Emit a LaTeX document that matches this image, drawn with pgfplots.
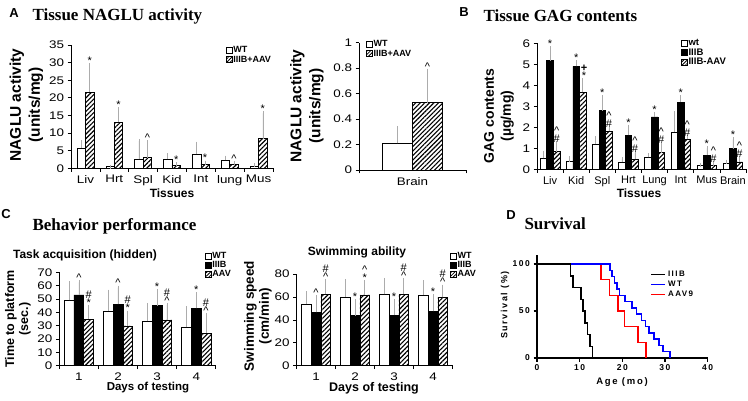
\documentclass[border=0pt]{standalone}
\usepackage{fontspec}
\setmainfont{Liberation Sans}
\newfontfamily\tms{Liberation Serif}
\newfontfamily\wf[FakeStretch=1.22]{Liberation Sans}
\newfontfamily\gp[LetterSpace=18]{Liberation Sans}
\usepackage{pgfplots}
\pgfplotsset{compat=1.18}
\usetikzlibrary{patterns.meta}

\newcommand{\fs}[1]{\fontsize{#1}{#1}\selectfont}
\newcommand{\an}[3]{\node[ann] at (axis cs:#1,#2) {#3};}
\newcommand{\car}{\textasciicircum}

\tikzset{ann/.style={anchor=south, inner sep=0.5pt, align=center,
    font=\fontsize{11}{8}\selectfont}}

\pgfplotsset{
  xl/.style={scale only axis, clip=false, axis lines=left,
    axis line style={-, line width=0.7pt}, tick align=outside,
    major tick length=3.5pt, tick style={black, line width=0.7pt},
    x tick label as interval, ymin=0,
    tick label style={font=\wf\fs{11}},
    /pgf/number format/assume math mode=true,
    legend cell align=left,
    legend style={draw=none, fill=none, anchor=north west, inner sep=0pt,
      font=\bfseries\fs{9}, row sep=0pt,
      nodes={inner sep=0.8pt}},
    legend image code/.code={\draw[##1] (0pt,-3pt) rectangle (6pt,3pt);},
  },
  eb/.style={error bars/.cd, y dir=plus, y explicit,
    error bar style={gray!65, line width=0.6pt},
    error mark options={gray!65, line width=0.6pt, mark size=2pt}},
  wt/.style={ybar, bar shift=0pt, draw=black, line width=0.6pt, fill=white, forget plot},
  mb/.style={ybar, bar shift=0pt, draw=black, line width=0.6pt, fill=black, forget plot},
  hb/.style={ybar, bar shift=0pt, draw=black, line width=0.6pt,
    pattern={Lines[angle=45, distance=3.2pt, line width=1.1pt]}, forget plot},
  hleg/.style={draw=black, line width=0.6pt, pattern={Lines[angle=45, distance=2.4pt, line width=0.8pt]}},
  kmleg/.style={legend image code/.code={\draw[##1] (0pt,0pt) -- (14pt,0pt);}},
}

\begin{document}
\begin{tikzpicture}
\useasboundingbox (0,0) rectangle (748pt,-401pt);

% ---------------- Panel A ----------------
\node[font=\bfseries\fs{13}] at (14pt,-13pt) {A};
\node[font=\tms\bfseries\fs{17}, anchor=west] at (29pt,-16pt) {Tissue NAGLU activity};
\node[rotate=90, align=center, font=\bfseries\fontsize{15.5}{19}\selectfont] at (26.5pt,-105pt) {NAGLU activity\\(units/mg)};
\node[font=\bfseries\fs{12}] at (172pt,-193pt) {Tissues};

\begin{axis}[xl, at={(71pt,-168.3pt)}, anchor=south west,
  width=202pt, height=123.3pt,
  xmin=0.5, xmax=7.5, ymax=35, ytick={0,5,...,35},
  xtick={0.5,1.5,...,7.5},
  xticklabels={Liv,Hrt,Spl,Kid,Int,lung,Mus},
  legend style={at={(0.765,0.995)}},
  bar width=0.294]
\addplot[wt, eb] coordinates {
  (0.853,5.8) +- (0,1.6) (1.853,0.5) +- (0,0) (2.853,2.5) +- (0,5.2) (3.853,2.6) +- (0,1.1)
  (4.853,4.0) +- (0,3.0) (5.853,2.3) +- (0,0.7) (6.853,0.5) +- (0,0.45)};
\addplot[hb, eb] coordinates {
  (1.147,21.6) +- (0,7.6) (2.147,13.1) +- (0,3.6) (3.147,3.0) +- (0,4.4) (4.147,0.75) +- (0,0.35)
  (5.147,1.1) +- (0,0.5) (6.147,1.15) +- (0,0.35) (7.147,8.4) +- (0,7.2)};
\addlegendimage{draw=black, line width=0.6pt, fill=white}
\addlegendentry{WT}
\addlegendimage{hleg}
\addlegendentry{IIIB+AAV}
\an{1.147}{29.2}{*}
\an{2.147}{16.7}{*}
\an{3.147}{7.4}{\car}
\an{4.147}{1.1}{*}
\an{5.147}{1.6}{*}
\an{6.147}{1.5}{\car}
\an{7.147}{15.6}{*}
\end{axis}

\node[rotate=90, align=center, font=\bfseries\fontsize{15.5}{19}\selectfont] at (307pt,-106pt) {NAGLU activity\\(units/mg)};
\begin{axis}[xl, at={(359pt,-170pt)}, anchor=south west,
  width=107pt, height=127.3pt,
  xmin=0.5, xmax=1.5, ymax=1, ytick={0,0.2,0.4,0.6,0.8,1},
  xtick={0.5,1.5}, xticklabels={Brain},
  legend style={at={(0.065,1.025)}},
  bar width=0.28]
\addplot[wt, eb] coordinates {(0.86,0.21) +- (0,0.12)};
\addplot[hb, eb] coordinates {(1.14,0.53) +- (0,0.25)};
\addlegendimage{draw=black, line width=0.6pt, fill=white}
\addlegendentry{WT}
\addlegendimage{hleg}
\addlegendentry{IIIB+AAV}
\an{1.14}{0.78}{\car}
\end{axis}

% ---------------- Panel B ----------------
\node[font=\bfseries\fs{13}] at (464pt,-12pt) {B};
\node[font=\tms\bfseries\fs{17}, anchor=west] at (480pt,-16pt) {Tissue GAG contents};
\node[rotate=90, align=center, font=\bfseries\fontsize{14}{17}\selectfont] at (499pt,-116pt) {GAG contents\\(µg/mg)};
\node[font=\bfseries\fs{12}] at (639pt,-193pt) {Tissues};

\begin{axis}[xl, at={(537pt,-169.3pt)}, anchor=south west,
  width=209pt, height=126pt,
  xmin=0.5, xmax=8.5, ymax=6, ytick={0,1,...,6},
  xtick={0.5,1.5,...,8.5},
  xticklabels={Liv,Kid,Spl,Hrt,Lung,Int,Mus,Brain},
  x tick label style={font=\fs{11}},
  legend style={at={(0.689,1.04)}, font=\bfseries\fs{9.5}},
  bar width=0.25]
\addplot[wt, eb] coordinates {
  (0.75,0.52) +- (0,0.27) (1.75,0.36) +- (0,0.16) (2.75,1.2) +- (0,0.27) (3.75,0.33) +- (0,0.14)
  (4.75,0.57) +- (0,0.09) (5.75,1.78) +- (0,0.9) (6.75,0.17) +- (0,0.05) (7.75,0.28) +- (0,0.08)};
\addplot[mb, eb] coordinates {
  (1,5.18) +- (0,0.59) (2,4.9) +- (0,0.2) (3,2.8) +- (0,0.64) (4,1.63) +- (0,0.39)
  (5,2.5) +- (0,0.14) (6,3.2) +- (0,0.24) (7,0.68) +- (0,0.32) (8,0.98) +- (0,0.44)};
\addplot[hb, eb] coordinates {
  (1.25,0.84) +- (0,0.39) (2.25,3.66) +- (0,0.57) (3.25,1.82) +- (0,0.12) (4.25,0.47) +- (0,0.29)
  (5.25,0.8) +- (0,0.38) (6.25,1.42) +- (0,0.13) (7.25,0.17) +- (0,0.11) (8.25,0.35) +- (0,0.2)};
\addlegendimage{draw=black, line width=0.6pt, fill=white}
\addlegendentry{wt}
\addlegendimage{draw=black, line width=0.6pt, fill=black}
\addlegendentry{IIIB}
\addlegendimage{hleg}
\addlegendentry{IIIB-AAV}
\an{1}{5.77}{*}   \an{1.25}{1.23}{\car\\\#}
\an{2}{5.1}{*}    \an{2.3}{4.23}{\textbf{+}\\*}
\an{3}{3.44}{*}   \an{3.25}{1.94}{\car\\\#}
\an{4}{2.02}{*}   \an{4.25}{0.76}{\car\\\#}
\an{5}{2.64}{*}   \an{5.25}{1.18}{\car\\\#}
\an{6}{3.44}{*}   \an{6.25}{1.55}{\car\\\#}
\an{7}{1.0}{*}    \an{7.25}{0.28}{\car\\\#}
\an{8}{1.42}{*}   \an{8.25}{0.55}{\car\\\#}
\end{axis}

% ---------------- Panel C ----------------
\node[font=\bfseries\fs{13}] at (6pt,-214pt) {C};
\node[font=\tms\bfseries\fs{17}, anchor=west] at (29pt,-226pt) {Behavior performance};
\node[font=\bfseries\fs{12}] at (85pt,-255pt) {Task acquisition (hidden)};
\node[rotate=90, align=center, font=\bfseries\fontsize{12.5}{14}\selectfont] at (18pt,-319pt) {Time to platform\\(sec.)};
\node[font=\bfseries\fs{11.5}] at (148pt,-388pt) {Days of testing};

\begin{axis}[xl, at={(59.3pt,-365.7pt)}, anchor=south west,
  width=156.5pt, height=93.4pt,
  xmin=0.5, xmax=4.5, ymax=70, ytick={0,10,...,70},
  xtick={0.5,1.5,...,4.5}, xticklabels={1,2,3,4},
  legend style={at={(0.93,1.228)}, font=\bfseries\fs{9}},
  bar width=0.25]
\addplot[wt, eb] coordinates {
  (0.75,49) +- (0,12.8) (1.75,41) +- (0,14.5) (2.75,33.5) +- (0,12) (3.75,29) +- (0,14)};
\addplot[mb, eb] coordinates {
  (1,53) +- (0,9.5) (2,46) +- (0,12.5) (3,45) +- (0,11) (4,43) +- (0,10.5)};
\addplot[hb, eb] coordinates {
  (1.25,35) +- (0,8.8) (2.25,29.8) +- (0,10) (3.25,34.3) +- (0,11.2) (4.25,24.5) +- (0,13.5)};
\addlegendimage{draw=black, line width=0.6pt, fill=white}
\addlegendentry{WT}
\addlegendimage{draw=black, line width=0.6pt, fill=black}
\addlegendentry{IIIB}
\addlegendimage{hleg}
\addlegendentry{AAV}
\an{1}{62.5}{\car}  \an{1.25}{43.8}{\#\\*}
\an{2}{58.5}{\car}  \an{2.25}{39.8}{\#\\*}
\an{3}{56}{*}       \an{3.25}{45.5}{\#\\\car}
\an{4}{53.5}{*}     \an{4.25}{38}{\#\\\car}
\end{axis}

\node[font=\bfseries\fs{12}] at (357pt,-252pt) {Swimming ability};
\node[rotate=90, align=center, font=\bfseries\fontsize{13.5}{15}\selectfont] at (258pt,-316pt) {Swimming speed\\(cm/min)};
\node[font=\bfseries\fs{12.5}] at (374pt,-388pt) {Days of testing};

\begin{axis}[xl, at={(296.5pt,-365.7pt)}, anchor=south west,
  width=156pt, height=91.7pt,
  xmin=0.5, xmax=4.5, ymax=80, ytick={0,20,...,80},
  xtick={0.5,1.5,...,4.5}, xticklabels={1,2,3,4},
  legend style={at={(0.984,1.25)}, font=\bfseries\fs{9}},
  bar width=0.25]
\addplot[wt, eb] coordinates {
  (0.75,53.8) +- (0,9.2) (1.75,60) +- (0,13.9) (2.75,62.3) +- (0,12.5) (3.75,61.7) +- (0,11)};
\addplot[mb, eb] coordinates {
  (1,46.5) +- (0,13.5) (2,43.6) +- (0,12.8) (3,44.2) +- (0,12.2) (4,47.4) +- (0,13.4)};
\addplot[hb, eb] coordinates {
  (1.25,62.3) +- (0,11.6) (2.25,61.7) +- (0,11) (3.25,62.3) +- (0,12.5) (4.25,59.6) +- (0,9.4)};
\addlegendimage{draw=black, line width=0.6pt, fill=white}
\addlegendentry{WT}
\addlegendimage{draw=black, line width=0.6pt, fill=black}
\addlegendentry{IIIB}
\addlegendimage{hleg}
\addlegendentry{AAV}
\an{1}{60}{\car}    \an{1.25}{73.9}{\#\\\car}
\an{2}{56.4}{*}     \an{2.25}{72.7}{\car\\*}
\an{3}{56.4}{*}     \an{3.25}{74.8}{\#\\\car}
\an{4}{60.8}{*}     \an{4.25}{69}{\#\\\car}
\end{axis}

% ---------------- Panel D ----------------
\node[font=\bfseries\fs{13}] at (511pt,-215pt) {D};
\node[font=\tms\bfseries\fs{17}, anchor=west] at (521pt,-224pt) {Survival};
\node[rotate=90, font=\gp\bfseries\fs{9}] at (505pt,-305pt) {Survival (\%)};
\node[font=\gp\bfseries\fs{9.5}] at (622pt,-382pt) {Age (mo)};

\begin{axis}[scale only axis, clip=false, at={(537pt,-358pt)}, anchor=south west,
  width=170.5pt, height=103.4pt,
  axis lines=left, axis line style={-, line width=1.3pt},
  tick align=outside, major tick length=3.5pt, tick style={black, line width=1.3pt},
  xmin=0, xmax=40, ymin=0, ymax=110,
  xtick={0,10,...,40}, ytick={0,50,100},
  tick label style={font=\gp\bfseries\fs{8.5}},
  /pgf/number format/assume math mode=true,
  legend cell align=left,
  legend style={draw=none, fill=none, at={(0.665,0.865)}, anchor=north west,
    font=\gp\bfseries\fs{8}, row sep=-1pt, inner sep=0pt},
  kmleg]
\addplot[const plot, red, line width=1.5pt, forget plot] coordinates {
  (0,100) (15,83.3) (17,66.7) (19,50) (20.5,33.3) (23.7,16.7) (25.6,0)};
\addplot[const plot, blue, line width=1.5pt, forget plot] coordinates {
  (0,100) (17.1,93.3) (17.6,86.7) (18.2,80) (18.8,73.3) (19.4,66.7) (20.6,60)
  (22.3,53.3) (23.3,46.7) (24.5,40) (25.4,33.3) (26.3,26.7) (27.4,20)
  (28.6,13.3) (29.6,6.7) (31.2,0)};
\addplot[const plot, black, line width=1.5pt, forget plot] coordinates {
  (0,100) (7.9,87.5) (8.5,75) (10.3,62.5) (10.8,50) (11.3,37.5) (11.8,25)
  (12.4,12.5) (13,0)};
\addlegendimage{black, line width=1.5pt}
\addlegendentry{IIIB}
\addlegendimage{blue, line width=1.5pt}
\addlegendentry{WT}
\addlegendimage{red, line width=1.5pt}
\addlegendentry{AAV9}
\end{axis}
\end{tikzpicture}
\end{document}
